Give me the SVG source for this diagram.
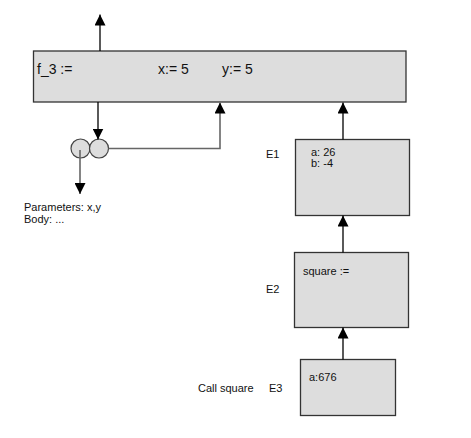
<svg xmlns="http://www.w3.org/2000/svg" width="471" height="438" viewBox="0 0 471 438">
<style>
.box{fill:#dddddd;stroke:#333333;stroke-width:1.3}
.circ{fill:#dddddd;stroke:#444444;stroke-width:1.2}
.ln{fill:none;stroke:#000;stroke-width:1.3}
.gl{fill:none;stroke:#666666;stroke-width:1.6}
.t{font-family:"Liberation Sans",Arial,sans-serif;fill:#111}
.big{font-size:14px}
.sm{font-size:11px}
</style>
<defs>
<marker id="ah" viewBox="0 0 10 10" refX="10" refY="5" markerWidth="11" markerHeight="11" markerUnits="userSpaceOnUse" orient="auto">
<path d="M0,0 L10,5 L0,10 z" fill="#000"/>
</marker>
</defs>
<rect width="471" height="438" fill="#fff"/>
<g id="f3">
<rect class="box" x="33.5" y="51" width="372.5" height="51"/>
<text class="t big" x="37" y="74">f_3 :=</text>
<text class="t big" x="158" y="74">x:= 5</text>
<text class="t big" x="222" y="74">y:= 5</text>
</g>
<g id="closure">
<circle class="circ" cx="80.5" cy="148.5" r="9.5"/>
<circle class="circ" cx="99" cy="148.5" r="9.5"/>
<text class="t sm" x="24" y="211">Parameters: x,y</text>
<text class="t sm" x="24" y="223">Body: ...</text>
</g>
<g id="E1">
<rect class="box" x="295.5" y="139.5" width="114" height="76"/>
<text class="t sm" x="266" y="158">E1</text>
<text class="t sm" x="311" y="156">a: 26</text>
<text class="t sm" x="311" y="167">b: -4</text>
</g>
<g id="E2">
<rect class="box" x="294.5" y="252.5" width="114" height="75"/>
<text class="t sm" x="266" y="293">E2</text>
<text class="t sm" x="303" y="275">square :=</text>
</g>
<g id="E3">
<rect class="box" x="300.5" y="359.5" width="95" height="56"/>
<text class="t sm" x="269" y="392">E3</text>
<text class="t sm" x="198" y="392">Call square</text>
<text class="t sm" x="309" y="381">a:676</text>
</g>
<g id="connectors">
<line class="ln" x1="100" y1="51" x2="100" y2="14.5" marker-end="url(#ah)"/>
<line class="ln" x1="98" y1="102" x2="98" y2="139.5" marker-end="url(#ah)"/>
<polyline class="gl" points="108.5,148.5 220,148.5 220,102.5" marker-end="url(#ah)"/>
<line class="gl" x1="80" y1="150" x2="80" y2="194" marker-end="url(#ah)"/>
<line class="ln" x1="343" y1="139.5" x2="343" y2="102.5" marker-end="url(#ah)"/>
<line class="ln" x1="343" y1="252.5" x2="343" y2="215.5" marker-end="url(#ah)"/>
<line class="ln" x1="343" y1="359.5" x2="343" y2="327.5" marker-end="url(#ah)"/>
</g>
</svg>
